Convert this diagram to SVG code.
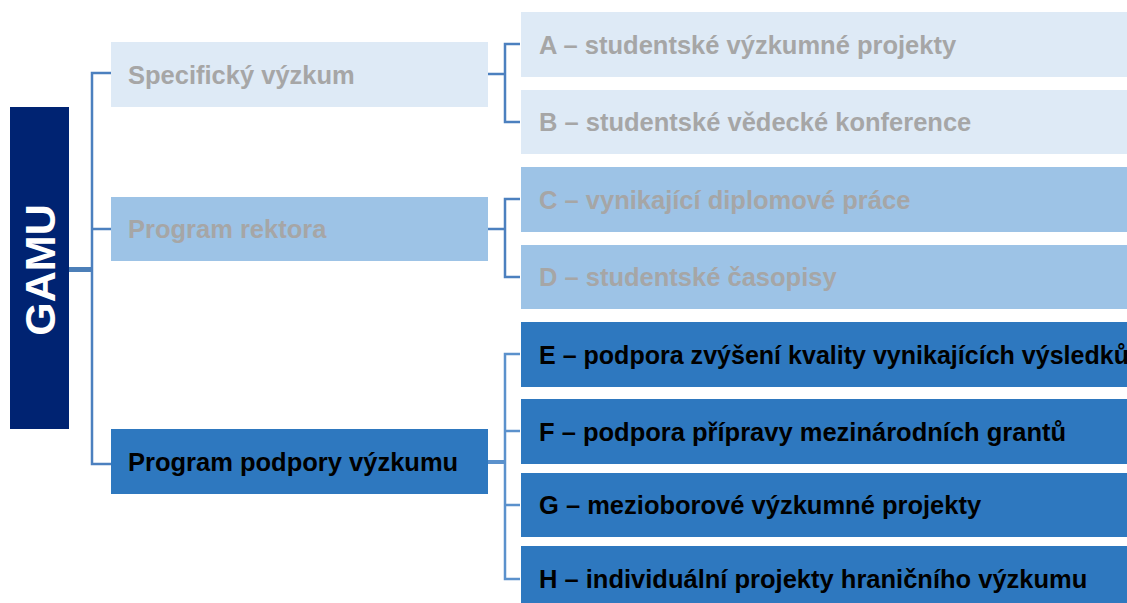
<svg xmlns="http://www.w3.org/2000/svg" width="1127" height="603" viewBox="0 0 1127 603">
<style>
.t{font-family:"Liberation Sans",Arial,sans-serif;font-weight:bold;font-size:25.5px}
.g{fill:#A6A6A6}
.k{fill:#000000}
.l1{fill:#DEEAF6}
.l2{fill:#9DC3E6}
.l3{fill:#2E78BF}
.c{fill:none;stroke:#4C80BF;stroke-width:2.5}
.c2{fill:none;stroke:#5B91CC;stroke-width:2.5}
</style>
<rect width="1127" height="603" fill="#FFFFFF"/>
<g id="connectors">
<line x1="69" y1="269.5" x2="92" y2="269.5" stroke="#4C7FB8" stroke-width="5"/>
<path class="c" d="M111 73 H92 V464 H111 M92 229 H111"/>
<path class="c" d="M488 74 H505 M520 44 H505 V122 H520"/>
<path class="c" d="M488 229 H505 M520 199 H505 V277 H520"/>
<path class="c2" d="M488 462 H505 M520 354 H505 V579 H520 M505 431 H520 M505 505 H520"/>
<line x1="488" y1="462" x2="505" y2="462" stroke="#5B91CC" stroke-width="4"/>
</g>
<g id="gamu">
<rect x="10" y="107" width="59" height="322" fill="#002372"/>
<text class="t" x="39.5" y="270" transform="rotate(-90 39.5 270)" text-anchor="middle" dominant-baseline="central" fill="#FFFFFF" style="font-size:43px">GAMU</text>
</g>
<g id="specificky">
<rect class="l1" x="111" y="42" width="377" height="65"/>
<text class="t g" x="128" y="83.5">Specifický výzkum</text>
</g>
<g id="rektora">
<rect class="l2" x="111" y="197" width="377" height="64"/>
<text class="t g" x="128" y="238">Program rektora</text>
</g>
<g id="podpory">
<rect class="l3" x="111" y="429" width="377" height="65"/>
<text class="t k" x="128" y="470.5">Program podpory výzkumu</text>
</g>
<g id="A">
<rect class="l1" x="521" y="12" width="606" height="65"/>
<text class="t g" x="539" y="53.5">A – studentské výzkumné projekty</text>
</g>
<g id="B">
<rect class="l1" x="521" y="90" width="606" height="64"/>
<text class="t g" x="539" y="131">B – studentské vědecké konference</text>
</g>
<g id="C">
<rect class="l2" x="521" y="167" width="606" height="65"/>
<text class="t g" x="539" y="208.5">C – vynikající diplomové práce</text>
</g>
<g id="D">
<rect class="l2" x="521" y="245" width="606" height="64"/>
<text class="t g" x="539" y="286">D – studentské časopisy</text>
</g>
<g id="E">
<rect class="l3" x="521" y="322" width="606" height="65"/>
<text class="t k" x="539" y="363.5" textLength="590" lengthAdjust="spacingAndGlyphs">E – podpora zvýšení kvality vynikajících výsledků</text>
</g>
<g id="F">
<rect class="l3" x="521" y="399" width="606" height="65"/>
<text class="t k" x="539" y="440.5">F – podpora přípravy mezinárodních grantů</text>
</g>
<g id="G">
<rect class="l3" x="521" y="473" width="606" height="64"/>
<text class="t k" x="539" y="514">G – mezioborové výzkumné projekty</text>
</g>
<g id="H">
<rect class="l3" x="521" y="546" width="606" height="65"/>
<text class="t k" x="539" y="587.5">H – individuální projekty hraničního výzkumu</text>
</g>
</svg>
